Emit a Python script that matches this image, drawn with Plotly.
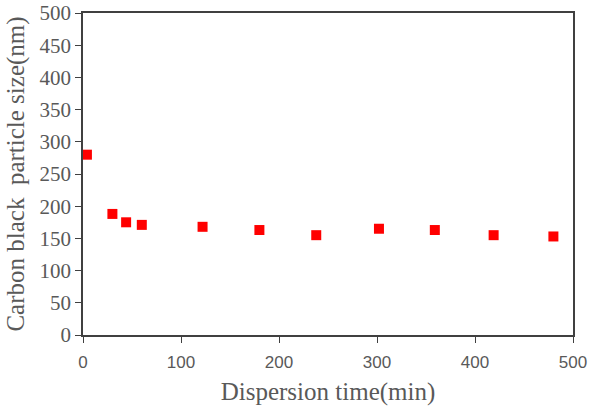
import plotly.graph_objects as go

time_min = [4, 30, 44, 60, 122, 180, 238, 302, 359, 419, 480]
size_nm = [280, 188, 175, 171, 168, 163, 155, 165, 163, 155, 153]
x_ticks = [0, 100, 200, 300, 400, 500]
y_ticks = [0, 50, 100, 150, 200, 250, 300, 350, 400, 450, 500]

fig = go.Figure()
fig.add_trace(go.Scatter(
    x=time_min, y=size_nm, mode="markers",
    marker=dict(symbol="square", size=10, color="#ff0000"),
    showlegend=False,
))

serif = "Liberation Serif, Times New Roman, serif"
fig.update_layout(
    width=590, height=410,
    margin=dict(l=83, r=17, t=13, b=75),
    paper_bgcolor="white", plot_bgcolor="white",
    xaxis=dict(
        range=[0, 500], tickvals=x_ticks, showgrid=False, zeroline=False,
        showline=True, linecolor="#404040", linewidth=1.5, mirror=True,
        ticks="outside", ticklen=6, tickcolor="#404040",
        tickfont=dict(family="Liberation Sans, Arial, sans-serif", size=17, color="#595959"),
        ticklabelstandoff=5,
        title=dict(text="Dispersion time(min)", font=dict(family=serif, size=25, color="#595959"), standoff=11),
        automargin=False,
    ),
    yaxis=dict(
        range=[0, 500], tickvals=y_ticks, showgrid=False, zeroline=False,
        showline=True, linecolor="#404040", linewidth=1.5, mirror=True,
        ticks="outside", ticklen=6, tickcolor="#404040",
        tickfont=dict(family=serif, size=21, color="#595959"),
        title=dict(text="Carbon black  particle size(nm)", font=dict(family=serif, size=25, color="#595959"), standoff=8),
        automargin=False,
    ),
)
fig.write_html(
    "out.html",
    config={"displayModeBar": False},
    post_script="document.body.style.margin='0';document.body.style.overflow='hidden';",
)
